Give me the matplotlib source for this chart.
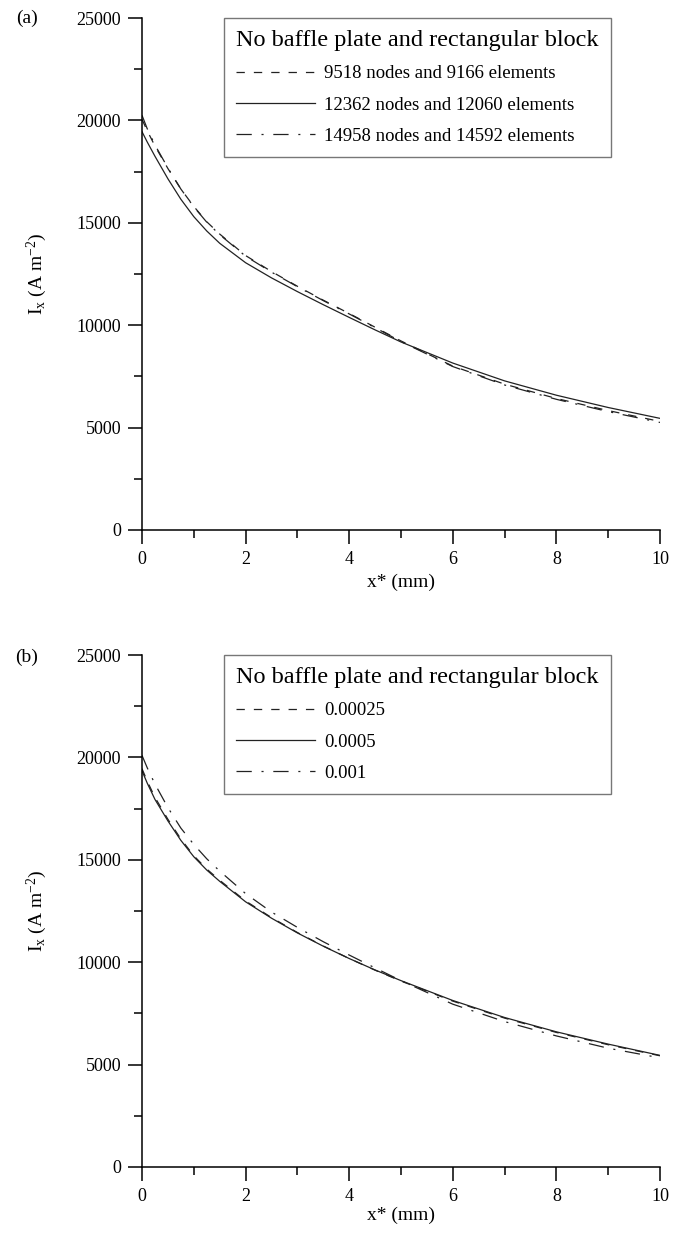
import matplotlib
matplotlib.use("Agg")
import matplotlib.pyplot as plt
from matplotlib.ticker import MultipleLocator

plt.rcParams['font.family'] = ['Liberation Serif', 'DejaVu Serif']
plt.rcParams['mathtext.fontset'] = 'custom'
plt.rcParams['mathtext.rm'] = 'Liberation Serif'
plt.rcParams['mathtext.it'] = 'Liberation Serif:italic'
plt.rcParams['lines.scale_dashes'] = False

# distance from the plate, mm
x_mm = [0, 0.1, 0.25, 0.5, 0.75, 1, 1.25, 1.5, 2, 2.5, 3, 3.5, 4, 4.5, 5, 6, 7, 8, 9, 10]

# panel (a): mesh study
mesh_labels = ['9518 nodes and 9166 elements',
               '12362 nodes and 12060 elements',
               '14958 nodes and 14592 elements']
ix_mesh_9518 = [20050, 19500, 18750, 17650, 16650, 15800, 15050, 14450, 13400, 12620,
                11900, 11220, 10570, 9900, 9230, 8000, 7120, 6420, 5830, 5300]
ix_mesh_12362 = [19450, 18950, 18250, 17150, 16150, 15300, 14600, 14000, 13050, 12310,
                 11640, 11000, 10380, 9770, 9180, 8150, 7280, 6580, 5980, 5450]
ix_mesh_14958 = [20250, 19600, 18800, 17680, 16650, 15780, 15030, 14420, 13370, 12590,
                 11880, 11200, 10550, 9880, 9200, 7980, 7080, 6380, 5780, 5250]

# panel (b): time step study
step_labels = ['0.00025', '0.0005', '0.001']
ix_step_00025 = [19450, 18850, 18050, 16980, 16020, 15200, 14550, 14000, 12990, 12180,
                 11450, 10790, 10180, 9610, 9080, 8100, 7270, 6570, 5970, 5430]
ix_step_0005 = [19350, 18750, 17950, 16900, 15950, 15150, 14500, 13950, 12950, 12150,
                11430, 10780, 10180, 9620, 9100, 8130, 7300, 6600, 6000, 5450]
ix_step_001 = [20100, 19500, 18700, 17550, 16550, 15750, 15050, 14450, 13350, 12450,
               11700, 11000, 10350, 9720, 9100, 7950, 7100, 6400, 5800, 5330]

legend_title = 'No baffle plate and rectangular block'
styles = [(0, (6, 6.5)), '-', (0, (11, 7, 1.5, 7))]
line_color = '#222222'

fig = plt.figure(figsize=(6.84, 12.42), dpi=100)
ax_a = fig.add_axes([0.2076, 0.5733, 0.7573, 0.4122])
ax_b = fig.add_axes([0.2076, 0.0604, 0.7573, 0.4122])


def style_axes(ax, xpad):
    ax.set_xlim(0, 10)
    ax.set_ylim(0, 25000)
    ax.xaxis.set_major_locator(MultipleLocator(2))
    ax.xaxis.set_minor_locator(MultipleLocator(1))
    ax.yaxis.set_major_locator(MultipleLocator(5000))
    ax.yaxis.set_minor_locator(MultipleLocator(2500))
    for side in ('top', 'right'):
        ax.spines[side].set_visible(False)
    for side in ('left', 'bottom'):
        ax.spines[side].set_linewidth(1.1)
    ax.tick_params(which='major', direction='out', length=10, width=1.1, labelsize=13, pad=5)
    ax.tick_params(which='minor', direction='out', length=6, width=1.1)
    ax.set_xlabel('x* (mm)', fontsize=14, labelpad=xpad)
    ax.set_ylabel(r'I$_\mathregular{x}$ (A m$^\mathregular{-2}$)', fontsize=14, labelpad=20)


def draw_panel(ax, series, labels, xpad):
    for ys, lab, ls in zip(series, labels, styles):
        ax.plot(x_mm, ys, color=line_color, linestyle=ls, linewidth=0.9, label=lab)
    leg = ax.legend(title=legend_title, loc='upper left', bbox_to_anchor=(0.158, 1.0),
                    borderaxespad=0, fontsize=13.5, title_fontsize=17.5, alignment='left',
                    fancybox=False, framealpha=1, edgecolor='#777777', handlelength=4.2,
                    handletextpad=0.5, labelspacing=0.75, borderpad=0.65)
    leg.get_frame().set_linewidth(1.0)
    style_axes(ax, xpad)


draw_panel(ax_a, [ix_mesh_9518, ix_mesh_12362, ix_mesh_14958], mesh_labels, 4)
draw_panel(ax_b, [ix_step_00025, ix_step_0005, ix_step_001], step_labels, 1)

fig.text(0.024, 0.985, '(a)', fontsize=14, va='center', ha='left')
fig.text(0.022, 0.471, '(b)', fontsize=14, va='center', ha='left')

fig.savefig('out.png', dpi=100)
